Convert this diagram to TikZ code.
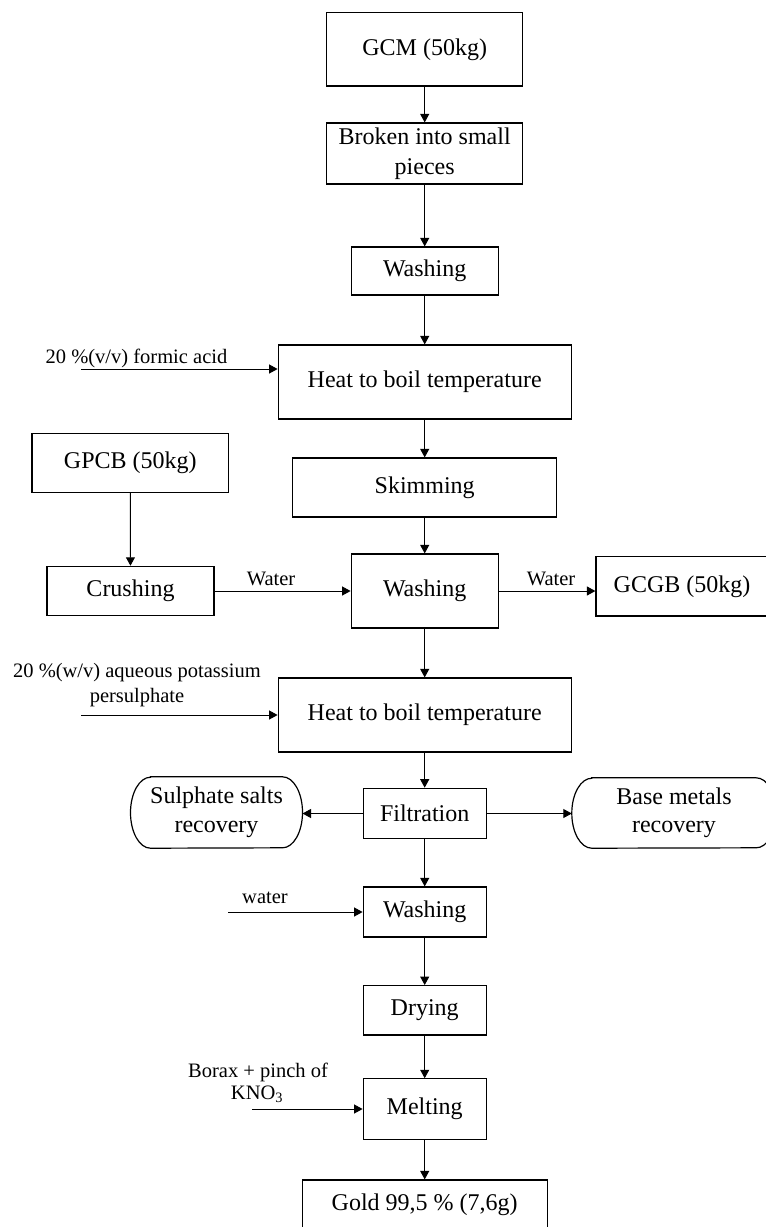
\documentclass[tikz,border=0pt]{standalone}
\usepackage{fontspec}
\setmainfont{Liberation Serif}
\usetikzlibrary{arrows.meta}
\tikzset{
  box/.style={draw, line width=1.2pt, inner sep=0pt, align=center,
    font=\fontsize{24}{29.5}\selectfont},
  plain/.style={inner sep=0pt, align=center,
    font=\fontsize{24}{28.5}\selectfont},
  lbl/.style={inner sep=0pt, font=\fontsize{20.5}{24}\selectfont},
  arr/.style={line width=1pt, -{Triangle[length=8.5pt,width=9pt]}},
  outline/.style={line width=1.2pt}
}
\begin{document}
\begin{tikzpicture}[x=1pt,y=-1pt]
\useasboundingbox (0,0) rectangle (766,1227);
\clip (0,0) rectangle (766,1227);
% main column
\node[box, minimum width=196, minimum height=73.3] (gcm) at (424.7,49.3) {GCM (50kg)};
\node[box, minimum width=196, minimum height=61] (broken) at (424.7,153.5) {Broken into small\\pieces};
\node[box, minimum width=147, minimum height=48] (wash1) at (424.7,271) {Washing};
\node[box, minimum width=293, minimum height=74] (heat1) at (424.7,382) {Heat to boil temperature};
\node[box, minimum width=264, minimum height=59] (skim) at (424.7,487.5) {Skimming};
\node[box, minimum width=147, minimum height=74] (wash2) at (424.7,591) {Washing};
\node[box, minimum width=196.5, minimum height=59] (gpcb) at (130.3,463) {GPCB (50kg)};
\node[box, minimum width=167, minimum height=49.3] (crush) at (130.5,591) {Crushing};
\node[box, minimum width=172, minimum height=59.3] (gcgb) at (682,586.3) {GCGB (50kg)};
\node[box, minimum width=293, minimum height=74] (heat2) at (424.7,715) {Heat to boil temperature};
\node[box, minimum width=123, minimum height=50.4] (filt) at (424.7,813.5) {Filtration};
\node[plain, minimum width=171.6, minimum height=71] (sul) at (216.5,812.5) {Sulphate salts\\recovery};
\node[plain, minimum width=204, minimum height=70] (base) at (674,813) {Base metals\\recovery};
\node[box, minimum width=123, minimum height=50] (wash3) at (424.7,912) {Washing};
\node[box, minimum width=123, minimum height=49.3] (dry) at (424.7,1010.3) {Drying};
\node[box, minimum width=123, minimum height=60.3] (melt) at (424.7,1109) {Melting};
\node[box, minimum width=245, minimum height=50] (gold) at (424.7,1205) {Gold 99,5 \% (7,6g)};
% rounded terminals
\draw[outline] ([xshift=20pt]sul.north west) -- ([xshift=-20pt]sul.north east)
  arc[start angle=-90, end angle=90, x radius=20, y radius=35.5]
  -- ([xshift=20pt]sul.south west)
  arc[start angle=90, end angle=270, x radius=20, y radius=35.5] -- cycle;
\draw[outline] ([xshift=20pt]base.north west) -- ([xshift=-20pt]base.north east)
  arc[start angle=-90, end angle=90, x radius=20, y radius=35]
  -- ([xshift=20pt]base.south west)
  arc[start angle=90, end angle=270, x radius=20, y radius=35] -- cycle;
% main flow arrows
\draw[arr] (gcm) -- (broken);
\draw[arr] (broken) -- (wash1);
\draw[arr] (wash1) -- (heat1);
\draw[arr] (heat1) -- (skim);
\draw[arr] (skim) -- (wash2);
\draw[arr] (wash2) -- (heat2);
\draw[arr] (heat2) -- (filt);
\draw[arr] (filt) -- (wash3);
\draw[arr] (wash3) -- (dry);
\draw[arr] (dry) -- (melt);
\draw[arr] (melt) -- (gold);
\draw[arr] (gpcb) -- (crush);
\draw[arr] (crush.east) -- (wash2.west);
\draw[arr] (wash2.east) -- (wash2.east -| gcgb.west);
\draw[arr] (filt.west) -- (filt.west -| sul.east);
\draw[arr] (filt.east) -- (filt.east -| base.west);
% inputs
\coordinate (inF) at (81,369);
\coordinate (inP) at (81,715);
\coordinate (inW) at (228,912);
\coordinate (inB) at (252,1109);
\draw[arr] (inF) -- (inF -| heat1.west);
\draw[arr] (inP) -- (inP -| heat2.west);
\draw[arr] (inW) -- (inW -| wash3.west);
\draw[arr] (inB) -- (inB -| melt.west);
% labels
\node[lbl, anchor=base west] (lF) at (45.5,363) {20 \%(v/v) formic acid};
\node[lbl, anchor=base] (lP1) at (137,677) {20 \%(w/v) aqueous potassium};
\node[lbl, anchor=base] (lP2) at (137,702) {persulphate};
\node[lbl, anchor=base] (lW) at (265,903) {water};
\node[lbl, anchor=base] (lB1) at (258,1077) {Borax + pinch of};
\node[lbl, anchor=base] (lB2) at (257,1099) {KNO\textsubscript{3}};
\node[lbl, anchor=base] (lWa) at (271,585) {Water};
\node[lbl, anchor=base] (lWb) at (551,585) {Water};
\end{tikzpicture}
\end{document}
